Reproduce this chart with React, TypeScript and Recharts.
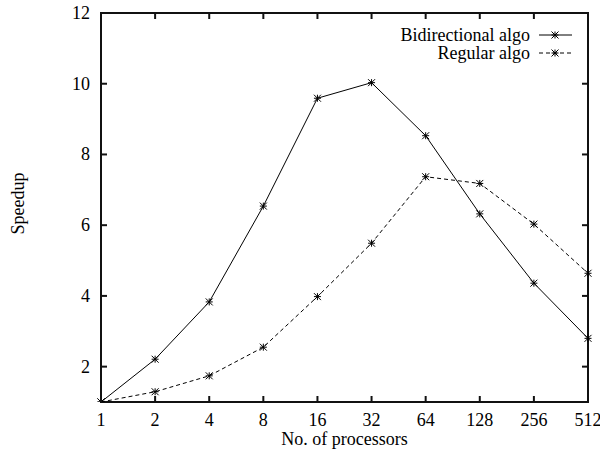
import { LineChart, Line, XAxis, YAxis, Legend, ReferenceArea } from "recharts";

const processors = ["1", "2", "4", "8", "16", "32", "64", "128", "256", "512"];
const bidirectional = [1.0, 2.21, 3.83, 6.54, 9.59, 10.03, 8.53, 6.32, 4.36, 2.8];
const regular = [1.0, 1.29, 1.74, 2.55, 3.98, 5.49, 7.37, 7.18, 6.03, 4.64];
const yTicks = [2, 4, 6, 8, 10, 12];

const data = processors.map((p, i) => ({
  procs: p,
  bidirectional: bidirectional[i],
  regular: regular[i],
}));

const FONT = "Liberation Serif, Times New Roman, serif";
const FS = 18;
const TICK = 6;
const INK = "#111";

function Star({ cx, cy }: { cx: number; cy: number }) {
  const r = 3.5;
  return (
    <path
      d={`M${cx - r},${cy}H${cx + r}M${cx},${cy - r}V${cy + r}M${cx - r},${cy - r}L${cx + r},${cy + r}M${cx - r},${cy + r}L${cx + r},${cy - r}`}
      stroke="#000"
      fill="none"
    />
  );
}

function renderDot(props: any) {
  const { cx, cy, index } = props;
  if (cx == null || cy == null) return <g key={index} />;
  return (
    <g key={index}>
      <Star cx={cx} cy={cy} />
    </g>
  );
}

// gnuplot style: tick marks point into the plot, labels sit outside
function BottomTick(props: any) {
  const { x, y, payload } = props;
  return (
    <g>
      <line x1={x} x2={x} y1={y} y2={y - TICK} stroke={INK} strokeWidth={2} />
      <text x={x} y={y + 24} textAnchor="middle" fontFamily={FONT} fontSize={FS} fill="#000">
        {payload.value}
      </text>
    </g>
  );
}

function TopTick(props: any) {
  const { x, y } = props;
  return <line x1={x} x2={x} y1={y} y2={y + TICK} stroke={INK} strokeWidth={2} />;
}

function LeftTick(props: any) {
  const { x, y, payload } = props;
  return (
    <g>
      <line x1={x} x2={x + TICK} y1={y} y2={y} stroke={INK} strokeWidth={2} />
      <text
        x={x - 11}
        y={y}
        textAnchor="end"
        dominantBaseline="central"
        fontFamily={FONT}
        fontSize={FS}
        fill="#000"
      >
        {payload.value}
      </text>
    </g>
  );
}

function RightTick(props: any) {
  const { x, y } = props;
  return <line x1={x} x2={x - TICK} y1={y} y2={y} stroke={INK} strokeWidth={2} />;
}

function KeyBox() {
  const rows = [
    { label: "Bidirectional algo", dash: undefined },
    { label: "Regular algo", dash: "4 3" },
  ];
  return (
    <svg width={200} height={40} style={{ display: "block" }}>
      {rows.map((r, i) => {
        const y = 9 + i * 18;
        return (
          <g key={r.label}>
            <text
              x={150}
              y={y}
              textAnchor="end"
              dominantBaseline="central"
              fontFamily={FONT}
              fontSize={FS}
              fill="#000"
            >
              {r.label}
            </text>
            <line x1={159} x2={192} y1={y} y2={y} stroke="#000" strokeDasharray={r.dash} />
            <Star cx={175} cy={y} />
          </g>
        );
      })}
    </svg>
  );
}

export default function App() {
  return (
    <div style={{ position: "absolute", left: 0, top: 0 }}>
      <LineChart
        width={600}
        height={452}
        data={data}
        margin={{ top: 12, right: 11, bottom: 20, left: 41 }}
      >
        <XAxis
          dataKey="procs"
          height={30}
          axisLine={false}
          tickLine={false}
          tickSize={0}
          tickMargin={0}
          tick={<BottomTick />}
          interval={0}
          label={{
            content: (props: any) => {
              const vb = props.viewBox;
              return (
                <text
                  x={vb.x + vb.width / 2}
                  y={vb.y + 43}
                  textAnchor="middle"
                  fontFamily={FONT}
                  fontSize={FS}
                  fill="#000"
                >
                  No. of processors
                </text>
              );
            },
          }}
        />
        <XAxis
          xAxisId="top"
          dataKey="procs"
          orientation="top"
          height={1}
          axisLine={false}
          tickLine={false}
          tickSize={0}
          tickMargin={0}
          tick={<TopTick />}
          interval={0}
        />
        <YAxis
          domain={[1, 12]}
          ticks={yTicks}
          width={60}
          axisLine={false}
          tickLine={false}
          tickSize={0}
          tickMargin={0}
          tick={<LeftTick />}
          allowDataOverflow
          label={{
            content: (props: any) => {
              const vb = props.viewBox;
              const y = vb.y + vb.height / 2 - 4;
              return (
                <text
                  x={18}
                  y={y}
                  transform={`rotate(-90 18 ${y})`}
                  textAnchor="middle"
                  dominantBaseline="central"
                  fontFamily={FONT}
                  fontSize={FS}
                  fill="#000"
                >
                  Speedup
                </text>
              );
            },
          }}
        />
        <YAxis
          yAxisId="right"
          orientation="right"
          domain={[1, 12]}
          ticks={yTicks}
          width={1}
          axisLine={false}
          tickLine={false}
          tickSize={0}
          tickMargin={0}
          tick={<RightTick />}
          allowDataOverflow
        />
        <ReferenceArea
          x1="1"
          x2="512"
          y1={1}
          y2={12}
          fill="none"
          fillOpacity={0}
          stroke={INK}
          strokeWidth={2}
          ifOverflow="visible"
        />
        <Legend
          layout="vertical"
          align="center"
          verticalAlign="middle"
          wrapperStyle={{ top: 26, right: 20, width: 200 }}
          content={() => <KeyBox />}
        />
        <Line
          dataKey="bidirectional"
          type="linear"
          stroke="#000"
          dot={renderDot}
          activeDot={false}
          isAnimationActive={false}
        />
        <Line
          dataKey="regular"
          type="linear"
          stroke="#000"
          strokeDasharray="4 3"
          dot={renderDot}
          activeDot={false}
          isAnimationActive={false}
        />
      </LineChart>
    </div>
  );
}
